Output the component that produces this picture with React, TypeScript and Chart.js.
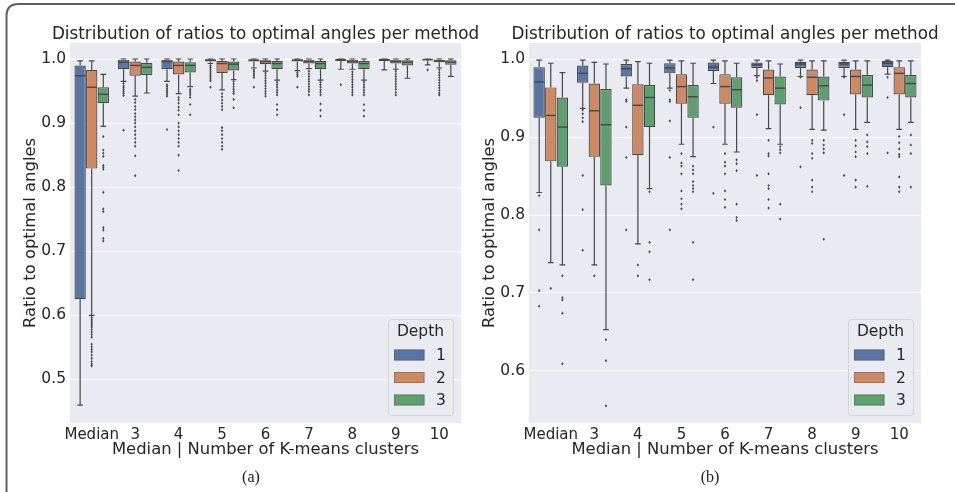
import React, { useEffect, useRef } from 'react';
import { Chart, registerables } from 'chart.js';

Chart.register(...registerables);

// ---------- shared ----------
const CATEGORIES = ['Median', '3', '4', '5', '6', '7', '8', '9', '10'];
const DEPTHS = ['1', '2', '3'];
const FACE_COLORS = ['#5975a4', '#cc8963', '#5f9e6e'];
const TITLE_TEXT = 'Distribution of ratios to optimal angles per method';
const X_TITLE = 'Median | Number of K-means clusters';
const Y_TITLE = 'Ratio to optimal angles';

// ---------- panel (a) ----------
const A_Y_TICKS = [0.5, 0.6, 0.7, 0.8, 0.9, 1.0];
const A_Y_RANGE = [0.432, 1.025];

const A_D1_WLO = [0.46, 0.965, 0.965, 0.993, 0.986, 0.982, 0.984, 0.983, 0.991];
const A_D1_Q1 = [0.625, 0.984, 0.984, 0.996, 0.996, 0.996, 0.997, 0.997, 0.998];
const A_D1_MED = [0.974, 0.995, 0.996, 0.998, 0.998, 0.998, 0.999, 0.999, 0.999];
const A_D1_Q3 = [0.99, 0.999, 0.999, 0.9995, 0.9995, 0.9995, 0.9995, 0.9995, 0.9995];
const A_D1_WHI = [0.997, 1.0, 1.0, 1.0, 1.0, 1.0, 1.0, 1.0, 1.0];
const A_D1_OUT = [
  [],
  [0.962, 0.958, 0.955, 0.952, 0.949, 0.946, 0.943, 0.889],
  [0.96, 0.957, 0.954, 0.951, 0.948, 0.945, 0.942, 0.89],
  [0.99, 0.987, 0.984, 0.981, 0.978, 0.975, 0.972, 0.969, 0.966, 0.956],
  [0.983, 0.98, 0.977, 0.974, 0.971, 0.956],
  [0.979, 0.976, 0.973, 0.956],
  [0.96],
  [],
  [0.983],
];

const A_D2_WLO = [0.6, 0.942, 0.946, 0.952, 0.981, 0.985, 0.984, 0.984, 0.986];
const A_D2_Q1 = [0.829, 0.974, 0.976, 0.978, 0.992, 0.993, 0.993, 0.993, 0.995];
const A_D2_MED = [0.956, 0.99, 0.99, 0.993, 0.996, 0.996, 0.996, 0.996, 0.997];
const A_D2_Q3 = [0.983, 0.996, 0.996, 0.997, 0.998, 0.999, 0.999, 0.999, 0.999];
const A_D2_WHI = [0.997, 1.0, 1.0, 1.0, 1.0, 1.0, 1.0, 1.0, 1.0];
const A_D2_OUT = [
  [0.597, 0.594, 0.591, 0.588, 0.585, 0.582, 0.578, 0.574, 0.57, 0.566, 0.555, 0.551, 0.547, 0.543, 0.538, 0.533, 0.528, 0.524, 0.521],
  [0.937, 0.932, 0.926, 0.921, 0.915, 0.91, 0.905, 0.9, 0.894, 0.888, 0.882, 0.876, 0.87, 0.864, 0.849, 0.818],
  [0.94, 0.936, 0.931, 0.925, 0.92, 0.913, 0.9, 0.894, 0.888, 0.882, 0.876, 0.87, 0.864, 0.85, 0.826],
  [0.946, 0.941, 0.936, 0.931, 0.926, 0.921, 0.893, 0.888, 0.882, 0.876, 0.87, 0.864, 0.859],
  [0.978, 0.974, 0.97, 0.966, 0.962, 0.958, 0.954, 0.95, 0.946, 0.942],
  [0.981, 0.977, 0.973, 0.969, 0.965, 0.961, 0.957, 0.953, 0.949, 0.944],
  [0.98, 0.976, 0.972, 0.968, 0.964, 0.96, 0.956, 0.952, 0.948, 0.944],
  [0.981, 0.977, 0.973, 0.969, 0.965, 0.961, 0.957, 0.953, 0.948, 0.944],
  [0.983, 0.979, 0.975, 0.971, 0.967, 0.963, 0.959, 0.955, 0.951, 0.947, 0.944],
];

const A_D3_WLO = [0.895, 0.947, 0.957, 0.968, 0.967, 0.967, 0.967, 0.97, 0.973];
const A_D3_Q1 = [0.931, 0.975, 0.979, 0.982, 0.984, 0.984, 0.984, 0.99, 0.991];
const A_D3_MED = [0.945, 0.987, 0.99, 0.992, 0.993, 0.993, 0.993, 0.995, 0.995];
const A_D3_Q3 = [0.956, 0.994, 0.995, 0.996, 0.997, 0.997, 0.997, 0.998, 0.998];
const A_D3_WHI = [0.976, 1.0, 1.0, 1.0, 1.0, 1.0, 1.0, 1.0, 1.0];
const A_D3_OUT = [
  [0.879, 0.858, 0.853, 0.848, 0.834, 0.831, 0.828, 0.792, 0.766, 0.762, 0.737, 0.733, 0.72, 0.716],
  [],
  [0.953, 0.95, 0.947, 0.944, 0.94, 0.929, 0.913],
  [0.965, 0.961, 0.957, 0.953, 0.949, 0.946, 0.937, 0.924],
  [0.964, 0.96, 0.956, 0.952, 0.948, 0.944, 0.929, 0.921, 0.913],
  [0.964, 0.96, 0.956, 0.952, 0.948, 0.944, 0.93, 0.92, 0.911],
  [0.964, 0.96, 0.956, 0.952, 0.948, 0.944, 0.929, 0.92, 0.911],
  [],
  [],
];

// ---------- panel (b) ----------
const B_Y_TICKS = [0.6, 0.7, 0.8, 0.9, 1.0];
const B_Y_RANGE = [0.533, 1.021];

const B_D1_WLO = [0.829, 0.937, 0.963, 0.963, 0.969, 0.979, 0.978, 0.978, 0.981];
const B_D1_Q1 = [0.925, 0.97, 0.978, 0.982, 0.985, 0.989, 0.989, 0.989, 0.99];
const B_D1_MED = [0.971, 0.982, 0.988, 0.989, 0.99, 0.993, 0.994, 0.994, 0.995];
const B_D1_Q3 = [0.99, 0.992, 0.994, 0.995, 0.996, 0.996, 0.997, 0.997, 0.998];
const B_D1_WHI = [0.999, 0.999, 0.999, 0.999, 0.999, 0.999, 0.999, 0.999, 0.999];
const B_D1_OUT = [
  [0.825, 0.781, 0.703, 0.683],
  [0.935, 0.93, 0.925, 0.92, 0.851, 0.807, 0.755],
  [0.948, 0.946, 0.913, 0.874, 0.781],
  [0.96, 0.948, 0.946, 0.921, 0.874, 0.781],
  [0.913, 0.828],
  [0.977, 0.973, 0.929, 0.851],
  [0.977, 0.938, 0.862],
  [0.977, 0.929, 0.851],
  [0.977, 0.951, 0.88],
];

const B_D2_WLO = [0.739, 0.736, 0.763, 0.891, 0.891, 0.911, 0.91, 0.91, 0.91];
const B_D2_Q1 = [0.869, 0.875, 0.877, 0.943, 0.943, 0.954, 0.954, 0.955, 0.955];
const B_D2_MED = [0.928, 0.934, 0.941, 0.965, 0.965, 0.976, 0.977, 0.978, 0.982];
const B_D2_Q3 = [0.964, 0.969, 0.968, 0.981, 0.981, 0.987, 0.987, 0.987, 0.99];
const B_D2_WHI = [0.995, 0.996, 0.997, 0.998, 0.998, 0.998, 0.998, 0.998, 0.998];
const B_D2_OUT = [
  [0.706],
  [0.722],
  [0.736, 0.722],
  [0.879, 0.867, 0.863, 0.853, 0.831, 0.821, 0.814, 0.808],
  [0.879, 0.868, 0.863, 0.853, 0.831, 0.82, 0.81],
  [0.896, 0.879, 0.876, 0.853, 0.838, 0.834, 0.82, 0.809],
  [0.896, 0.892, 0.879, 0.873, 0.845, 0.836, 0.83],
  [0.896, 0.889, 0.881, 0.875, 0.845, 0.836],
  [0.901, 0.893, 0.885, 0.878, 0.875, 0.849, 0.836, 0.83],
];

const B_D3_WLO = [0.736, 0.653, 0.834, 0.875, 0.881, 0.891, 0.909, 0.919, 0.919];
const B_D3_Q1 = [0.862, 0.838, 0.913, 0.925, 0.938, 0.942, 0.947, 0.951, 0.951];
const B_D3_MED = [0.913, 0.916, 0.951, 0.952, 0.961, 0.963, 0.966, 0.967, 0.969];
const B_D3_Q3 = [0.951, 0.962, 0.967, 0.967, 0.977, 0.978, 0.978, 0.98, 0.98];
const B_D3_WHI = [0.983, 0.994, 0.995, 0.995, 0.995, 0.994, 0.998, 0.998, 0.998];
const B_D3_OUT = [
  [0.722, 0.694, 0.691, 0.674, 0.609],
  [0.64, 0.613, 0.555],
  [0.83, 0.765, 0.753, 0.717],
  [0.863, 0.858, 0.853, 0.843, 0.838, 0.834, 0.83, 0.765, 0.717],
  [0.871, 0.866, 0.857, 0.814, 0.797, 0.793],
  [0.888, 0.884, 0.88, 0.814, 0.795],
  [0.896, 0.89, 0.885, 0.88, 0.769],
  [0.903, 0.894, 0.888, 0.879, 0.837],
  [0.903, 0.89, 0.879, 0.836],
];

// ---------- styling constants ----------
const LINE_COLOR = '#474747';
const TEXT_COLOR = '#262626';
const BG_COLOR = '#eaeaf2';
const FONT = 'DejaVu Sans';

type Stats = { wlo: number[]; q1: number[]; med: number[]; q3: number[]; whi: number[]; out: number[][] };

const boxPlugin = {
  id: 'boxExtras',
  beforeDraw(chart: any) {
    const { ctx, chartArea: a } = chart;
    ctx.save();
    ctx.fillStyle = BG_COLOR;
    ctx.fillRect(a.left, a.top, a.right - a.left, a.bottom - a.top);
    ctx.restore();
  },
  afterDatasetsDraw(chart: any) {
    const ctx = chart.ctx;
    const ys = chart.scales.y;
    ctx.save();
    chart.data.datasets.forEach((ds: any, d: number) => {
      const st: Stats = ds.stats;
      const meta = chart.getDatasetMeta(d);
      meta.data.forEach((bar: any, i: number) => {
        const { x, width } = bar.getProps(['x', 'width'], true);
        const yq1 = ys.getPixelForValue(st.q1[i]);
        const yq3 = ys.getPixelForValue(st.q3[i]);
        const ylo = ys.getPixelForValue(st.wlo[i]);
        const yhi = ys.getPixelForValue(st.whi[i]);
        const ymed = ys.getPixelForValue(st.med[i]);
        const cap = width / 4;
        ctx.strokeStyle = LINE_COLOR;
        ctx.lineWidth = 1.2;
        ctx.beginPath();
        ctx.moveTo(x, yq1);
        ctx.lineTo(x, ylo);
        ctx.moveTo(x - cap, ylo);
        ctx.lineTo(x + cap, ylo);
        ctx.moveTo(x, yq3);
        ctx.lineTo(x, yhi);
        ctx.moveTo(x - cap, yhi);
        ctx.lineTo(x + cap, yhi);
        ctx.stroke();
        ctx.lineWidth = 1.4;
        ctx.beginPath();
        ctx.moveTo(x - width / 2 + 0.5, ymed);
        ctx.lineTo(x + width / 2 - 0.5, ymed);
        ctx.stroke();
        ctx.fillStyle = LINE_COLOR;
        st.out[i].forEach((v: number) => {
          const py = ys.getPixelForValue(v);
          ctx.beginPath();
          ctx.moveTo(x, py - 1.6);
          ctx.lineTo(x + 1.2, py);
          ctx.lineTo(x, py + 1.6);
          ctx.lineTo(x - 1.2, py);
          ctx.closePath();
          ctx.fill();
        });
      });
    });
    ctx.restore();
  },
  afterDraw(chart: any, _args: any, opts: any) {
    const { ctx, chartArea: a } = chart;
    ctx.save();
    // title
    ctx.fillStyle = TEXT_COLOR;
    ctx.font = `16.8px "${FONT}"`;
    ctx.textAlign = 'center';
    ctx.textBaseline = 'middle';
    ctx.fillText(opts.title, (a.left + a.right) / 2, 35);
    // legend
    const bw = 65;
    const bh = 96;
    const bx = a.right - 8 - bw;
    const by = a.bottom - 8 - bh;
    ctx.fillStyle = 'rgba(234,234,242,0.8)';
    ctx.strokeStyle = '#d3d3da';
    ctx.lineWidth = 1;
    ctx.beginPath();
    (ctx as any).roundRect(bx + 0.5, by + 0.5, bw, bh, 3);
    ctx.fill();
    ctx.stroke();
    ctx.fillStyle = TEXT_COLOR;
    ctx.font = `15.5px "${FONT}"`;
    ctx.textAlign = 'center';
    ctx.fillText('Depth', bx + bw / 2, by + 13);
    chart.data.datasets.forEach((ds: any, d: number) => {
      const cy = by + 36 + d * 22.5;
      ctx.fillStyle = ds.backgroundColor;
      ctx.fillRect(bx + 6, cy - 5.5, 30.5, 11);
      ctx.strokeStyle = LINE_COLOR;
      ctx.globalAlpha = 0.35;
      ctx.strokeRect(bx + 6.5, cy - 5, 29.5, 10);
      ctx.globalAlpha = 1;
      ctx.fillStyle = TEXT_COLOR;
      ctx.textAlign = 'left';
      ctx.fillText(ds.label, bx + 48, cy + 1);
    });
    ctx.restore();
  },
};

type PanelProps = {
  left: number;
  width: number;
  padRight: number;
  yTicks: number[];
  yRange: number[];
  stats: Stats[];
};

function Panel({ left, width, padRight, yTicks, yRange, stats }: PanelProps) {
  const ref = useRef<HTMLCanvasElement | null>(null);
  useEffect(() => {
    if (!ref.current) return;
    const chart = new Chart(ref.current, {
      type: 'bar',
      data: {
        labels: CATEGORIES,
        datasets: DEPTHS.map((lab, d) => ({
          label: lab,
          data: stats[d].q1.map((q, i) => [q, stats[d].q3[i]]),
          backgroundColor: FACE_COLORS[d],
          borderColor: LINE_COLOR,
          borderWidth: 1.2,
          borderSkipped: false,
          categoryPercentage: 0.8,
          barPercentage: 0.98,
          stats: stats[d],
        })) as any,
      },
      options: {
        animation: false,
        responsive: false,
        events: [],
        layout: { padding: { left: 0, right: padRight, top: 43, bottom: 0 } },
        plugins: {
          legend: { display: false },
          title: { display: false },
          tooltip: { enabled: false },
          boxExtras: { title: TITLE_TEXT },
        } as any,
        scales: {
          x: {
            type: 'category',
            grid: { display: false, drawTicks: false },
            border: { display: false },
            ticks: {
              autoSkip: false,
              maxRotation: 0,
              minRotation: 0,
              padding: 3,
              color: TEXT_COLOR,
              font: { family: FONT, size: 15 },
            },
            title: {
              display: true,
              text: X_TITLE,
              color: TEXT_COLOR,
              font: { family: FONT, size: 16.4 },
              padding: { top: 0, bottom: 10 },
            },
            afterFit: (s: any) => {
              s.height = 47;
            },
          },
          y: {
            type: 'linear',
            min: yRange[0],
            max: yRange[1],
            grid: { color: '#ffffff', lineWidth: 1, drawTicks: false },
            border: { display: false },
            afterBuildTicks: (s: any) => {
              s.ticks = yTicks.map((v) => ({ value: v }));
            },
            ticks: {
              padding: 4,
              color: TEXT_COLOR,
              font: { family: FONT, size: 15.5 },
              callback: (v: any) => Number(v).toFixed(1),
            },
            title: {
              display: true,
              text: Y_TITLE,
              color: TEXT_COLOR,
              font: { family: FONT, size: 16.4 },
              padding: { top: 21, bottom: 0 },
            },
            afterFit: (s: any) => {
              s.width = 70;
            },
          },
        },
      } as any,
      plugins: [boxPlugin as any],
    });
    return () => chart.destroy();
  }, []);
  return (
    <canvas
      ref={ref}
      width={width}
      height={470}
      style={{ position: 'absolute', left, top: 0, width, height: 470 }}
    />
  );
}

const A_STATS: Stats[] = [
  { wlo: A_D1_WLO, q1: A_D1_Q1, med: A_D1_MED, q3: A_D1_Q3, whi: A_D1_WHI, out: A_D1_OUT },
  { wlo: A_D2_WLO, q1: A_D2_Q1, med: A_D2_MED, q3: A_D2_Q3, whi: A_D2_WHI, out: A_D2_OUT },
  { wlo: A_D3_WLO, q1: A_D3_Q1, med: A_D3_MED, q3: A_D3_Q3, whi: A_D3_WHI, out: A_D3_OUT },
];
const B_STATS: Stats[] = [
  { wlo: B_D1_WLO, q1: B_D1_Q1, med: B_D1_MED, q3: B_D1_Q3, whi: B_D1_WHI, out: B_D1_OUT },
  { wlo: B_D2_WLO, q1: B_D2_Q1, med: B_D2_MED, q3: B_D2_Q3, whi: B_D2_WHI, out: B_D2_OUT },
  { wlo: B_D3_WLO, q1: B_D3_Q1, med: B_D3_MED, q3: B_D3_Q3, whi: B_D3_WHI, out: B_D3_OUT },
];

const captionStyle: React.CSSProperties = {
  position: 'absolute',
  width: 80,
  top: 468,
  textAlign: 'center',
  fontFamily: '"Liberation Serif", serif',
  fontSize: 16,
  lineHeight: '18px',
  color: '#222',
};

export default function App() {
  return (
    <div
      style={{
        position: 'fixed',
        left: 0,
        top: 0,
        width: 955,
        height: 492,
        overflow: 'hidden',
        background: '#ffffff',
      }}
    >
      <svg
        width={955}
        height={492}
        style={{ position: 'absolute', left: 0, top: 0, display: 'block' }}
      >
        <path
          d="M 6.5 492 L 6.5 16 Q 6.5 4 18.5 4 L 955 4"
          fill="none"
          stroke="#5e5e5e"
          strokeWidth={2}
        />
      </svg>
      <Panel left={0} width={480} padRight={19} yTicks={A_Y_TICKS} yRange={A_Y_RANGE} stats={A_STATS} />
      <Panel left={459} width={496} padRight={34} yTicks={B_Y_TICKS} yRange={B_Y_RANGE} stats={B_STATS} />
      <div style={{ ...captionStyle, left: 211 }}>(a)</div>
      <div style={{ ...captionStyle, left: 670 }}>(b)</div>
    </div>
  );
}
